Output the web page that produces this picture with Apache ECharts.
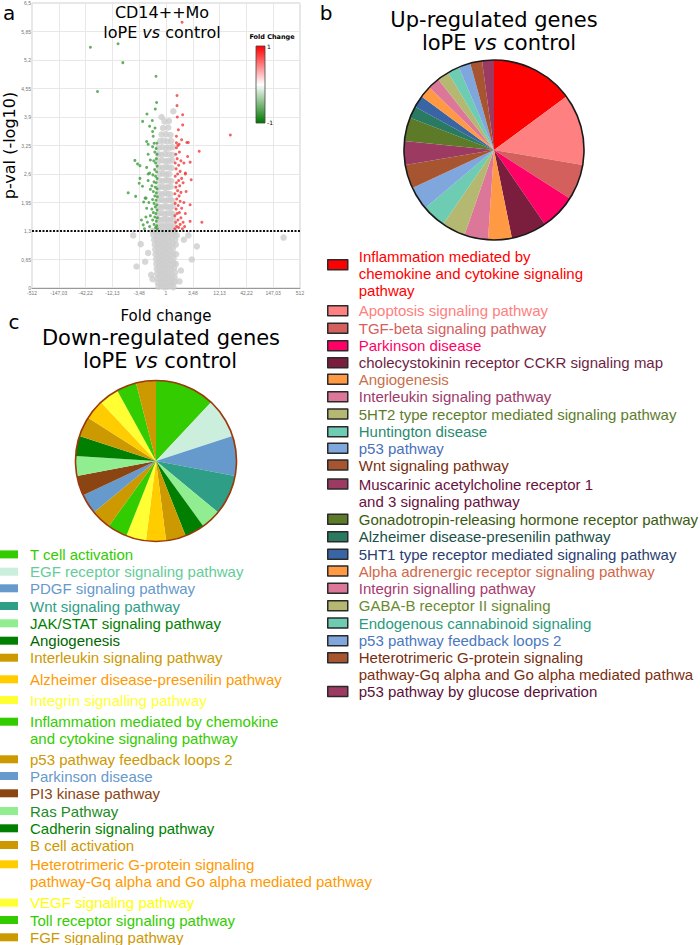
<!DOCTYPE html>
<html><head><meta charset="utf-8">
<script src="https://cdn.jsdelivr.net/npm/echarts@6/dist/echarts.min.js"></script>
<style>html,body{margin:0;padding:0;background:#fff}#c{width:700px;height:945px}</style>
</head><body><div id="c"></div><script>
// ---------- DATA ----------
const xTickLabels = ['-512','-147,03','-42,22','-12,13','-3,48','1','3,48','12,13','42,22','147,03','512'];
const yTickLabels = ['0','0,65','1,3','1,95','2,6','3,25','3,9','4,55','5,2','5,85','6,5'];
const pThreshold = 1.3;

// volcano points: [log2 fold change, -log10 p]
const greyPoints = [
[-0.5,0.03],[-0.3,0.04],[-0.1,0.02],[0.1,0.03],[0.3,0.04],[0.5,0.02],
[-0.55,0.12],[-0.35,0.13],[-0.15,0.11],[0.05,0.12],[0.25,0.13],[0.45,0.11],[0.6,0.14],
[-0.58,0.22],[-0.4,0.23],[-0.2,0.21],[0.0,0.22],[0.2,0.23],[0.4,0.21],[0.58,0.24],
[-0.6,0.33],[-0.42,0.34],[-0.22,0.32],[-0.03,0.33],[0.17,0.34],[0.37,0.32],[0.6,0.35],
[-0.62,0.44],[-0.44,0.45],[-0.25,0.43],[-0.05,0.44],[0.15,0.45],[0.35,0.43],[0.55,0.46],
[-0.65,0.55],[-0.45,0.56],[-0.27,0.54],[-0.08,0.55],[0.12,0.56],[0.32,0.54],[0.52,0.57],[0.66,0.55],
[-0.66,0.66],[-0.47,0.67],[-0.28,0.65],[-0.1,0.66],[0.1,0.67],[0.3,0.65],[0.5,0.68],
[-0.7,0.77],[-0.5,0.78],[-0.3,0.76],[-0.12,0.77],[0.08,0.78],[0.28,0.76],[0.48,0.79],[0.68,0.77],
[-0.72,0.88],[-0.52,0.89],[-0.32,0.87],[-0.14,0.88],[0.06,0.89],[0.26,0.87],[0.46,0.9],
[-0.75,0.99],[-0.55,1.0],[-0.35,0.98],[-0.16,0.99],[0.04,1.0],[0.24,0.98],[0.44,1.01],[0.66,0.99],
[-0.8,1.1],[-0.6,1.11],[-0.4,1.09],[-0.2,1.1],[0.0,1.11],[0.2,1.09],[0.4,1.12],[0.62,1.1],
[-0.85,1.21],[-0.62,1.22],[-0.42,1.2],[-0.22,1.21],[-0.02,1.22],[0.18,1.2],[0.38,1.23],[0.58,1.21],[0.72,1.2],
[-0.9,1.3],[-0.7,1.31],[-0.45,1.29],[-0.25,1.3],[0.0,1.31],[0.2,1.29],[0.4,1.32],[0.55,1.3],
[-0.5,1.42],[-0.3,1.41],[-0.1,1.43],[0.1,1.42],[0.3,1.41],[0.48,1.43],
[-0.52,1.56],[-0.32,1.55],[-0.12,1.57],[0.08,1.56],[0.28,1.55],[0.46,1.57],
[-0.5,1.7],[-0.3,1.71],[-0.1,1.69],[0.1,1.7],[0.3,1.71],[0.45,1.69],
[-0.5,1.85],[-0.3,1.84],[-0.1,1.86],[0.1,1.85],[0.28,1.84],[0.45,1.86],
[-0.48,2.0],[-0.28,2.01],[-0.08,1.99],[0.12,2.0],[0.3,2.01],[0.42,1.99],
[-0.46,2.15],[-0.26,2.14],[-0.06,2.16],[0.14,2.15],[0.3,2.14],
[-0.45,2.3],[-0.25,2.31],[-0.05,2.29],[0.15,2.3],[0.32,2.31],
[-0.44,2.45],[-0.22,2.44],[0.0,2.46],[0.2,2.45],[0.36,2.44],
[-0.42,2.6],[-0.2,2.61],[0.02,2.59],[0.22,2.6],
[-0.45,2.75],[-0.22,2.74],[0.0,2.76],[0.2,2.75],[0.38,2.74],
[-0.5,2.9],[-0.25,2.91],[-0.02,2.89],[0.2,2.9],[0.4,2.91],
[-0.52,3.05],[-0.3,3.04],[-0.05,3.06],[0.18,3.05],[0.42,3.04],
[-0.5,3.2],[-0.25,3.21],[0.0,3.19],[0.25,3.2],[0.45,3.21],
[-0.4,3.35],[-0.15,3.36],[0.1,3.34],[0.35,3.35],
[-0.3,3.5],[0.0,3.51],[0.3,3.49],[-0.2,3.65],[0.15,3.66],[-0.1,3.8],[0.2,3.81],
[0.49,4.03],[-0.3,3.9],
[-1.98,0.49],[2.07,0.95],[7.9,1.15],[1.73,0.65],[-1.7,1.0],[-1.2,0.8],[1.2,1.1],[-1.0,0.3],
[1.0,0.4],[-1.4,0.6],[1.5,1.2],[-2.2,1.2],[0.9,0.15],[-0.9,0.2]
];
const downRegPoints = [
[-0.58,1.35],[-0.62,1.42],[-0.7,1.38],[-0.8,1.45],[-0.65,1.52],[-0.9,1.55],[-0.58,1.6],[-0.75,1.62],
[-0.68,1.7],[-0.85,1.72],[-0.6,1.78],[-0.95,1.8],[-0.72,1.85],[-0.62,1.9],[-0.8,1.93],[-0.67,2.0],
[-0.9,2.02],[-0.58,2.08],[-0.75,2.1],[-0.65,2.17],[-0.85,2.2],[-0.6,2.26],[-0.72,2.3],[-0.95,2.33],
[-0.66,2.4],[-0.8,2.42],[-0.6,2.5],[-0.7,2.55],[-0.88,2.58],[-0.63,2.65],[-0.76,2.7],[-0.6,2.78],
[-0.7,2.85],[-0.82,2.9],[-0.65,2.95],[-0.6,3.05],[-0.75,3.1],[-0.66,3.18],[-0.9,3.22],[-0.62,3.3],
[-1.1,1.4],[-1.25,1.5],[-1.05,1.65],[-1.3,1.82],[-1.15,1.95],[-1.4,2.05],[-1.05,2.25],[-1.2,2.45],
[-1.1,2.62],[-1.3,2.75],[-1.05,2.92],[-1.2,3.05],[-1.5,1.96],[-1.53,1.44],[-1.65,1.55],[-1.8,2.39],
[-1.75,2.5],[-1.58,2.32],[-1.34,2.05],[-1.2,2.6],[-1.75,2.79],[-1.91,2.83],[-2.09,2.91],[-2.54,2.17],
[-2.04,2.09],[-1.45,1.35],[-1.35,1.62],
[-0.63,4.23],[-0.72,4.08],[-1.28,3.97],[-0.92,3.82],[-1.57,3.8],[-1.1,3.69],[-0.74,3.65],[-0.9,3.57],
[-0.86,3.46],[-1.3,3.34],[-0.8,3.3],[-1.2,3.28],[-0.67,4.83],[-4.6,4.48],[-2.9,5.14],[-3.22,5.57],[-5.08,5.49]
];
const upRegPoints = [
[0.6,1.35],[0.72,1.4],[0.85,1.38],[0.95,1.45],[0.65,1.5],[0.8,1.55],[1.0,1.6],[0.6,1.65],
[0.75,1.7],[0.9,1.72],[0.68,1.8],[1.05,1.82],[0.82,1.88],[0.62,1.93],[0.95,1.98],[0.72,2.03],
[0.88,2.1],[0.6,2.15],[1.0,2.18],[0.78,2.22],[0.66,2.3],[0.92,2.33],[0.7,2.4],[0.85,2.45],
[1.05,2.5],[0.62,2.55],[0.78,2.6],[0.95,2.66],[0.68,2.72],[0.85,2.8],[0.62,2.85],[1.0,2.9],
[0.75,2.95],[0.66,3.05],[0.9,3.1],[0.7,3.2],[0.8,3.25],
[1.15,1.5],[1.3,1.7],[1.2,1.95],[1.35,2.2],[1.15,2.4],[1.3,2.62],[1.2,2.85],[1.45,3.0],
[1.62,1.52],[2.41,1.5],[1.62,1.9],[1.69,2.47],[1.62,2.87],[1.3,2.6],[1.4,3.32],[2.23,3.12],
[1.1,1.35],[1.25,1.4],
[0.74,4.16],[1.12,3.95],[0.76,3.9],[0.83,3.61],[1.12,3.72],[0.7,3.46],[1.05,3.38],[0.7,3.31],
[0.88,3.28],[1.5,3.32],[0.74,4.39],[1.08,6.06],[4.32,3.49]
];

// pie b: up-regulated (gene counts)
const upCategories = [
'Inflammation mediated by\nchemokine and cytokine signaling\npathway',
'Apoptosis signaling pathway','TGF-beta signaling pathway','Parkinson disease',
'cholecystokinin receptor CCKR signaling map','Angiogenesis','Interleukin signaling pathway',
'5HT2 type receptor mediated signaling pathway','Huntington disease','p53 pathway','Wnt signaling pathway',
'Muscarinic acetylcholine receptor 1\nand 3 signaling pathway','Gonadotropin-releasing hormone receptor pathway',
'Alzheimer disease-presenilin pathway','5HT1 type receptor mediated signaling pathway',
'Alpha adrenergic receptor signaling pathway','Integrin signalling pathway','GABA-B receptor II signaling',
'Endogenous cannabinoid signaling','p53 pathway feedback loops 2',
'Heterotrimeric G-protein signaling\npathway-Gq alpha and Go alpha mediated pathwa',
'p53 pathway by glucose deprivation'
];
const upCounts = [7,6,3,3,3,2,2,2,2,2,2,2,2,1,1,1,1,1,1,1,1,1];

// pie c: down-regulated (gene counts)
const downCategories = [
'T cell activation','EGF receptor signaling pathway','PDGF signaling pathway','Wnt signaling pathway',
'JAK/STAT signaling pathway','Angiogenesis','Interleukin signaling pathway',
'Alzheimer disease-presenilin pathway','Integrin signalling pathway',
'Inflammation mediated by chemokine\nand cytokine signaling pathway','p53 pathway feedback loops 2',
'Parkinson disease','PI3 kinase pathway','Ras Pathway','Cadherin signaling pathway','B cell activation',
'Heterotrimeric G-protein signaling\npathway-Gq alpha and Go alpha mediated pathway',
'VEGF signaling pathway','Toll receptor signaling pathway','FGF signaling pathway'
];
const downCounts = [3,2,2,2,1,1,1,1,1,1,1,1,1,1,1,1,1,1,1,1];

// ---------- STYLES ----------
const upColors = ['#ff0000','#ff8080','#d4605e','#ff0066','#7b1e3e','#ff9944','#dd7799','#b5b870',
'#6dccb2','#7fa6dd','#a65530','#9c3a62','#5c7a28','#2a7a62','#3a65a5','#ff9944','#dd7799','#b5b870',
'#6dccb2','#7fa6dd','#a65530','#9c3a62'];
const upTextColors = ['#ff0000','#ff8080','#d4605e','#ff0066','#6e1f45','#c8704a','#9c3a6a','#5e7d2c',
'#2a8a70','#4a70b8','#7a2e10','#6a1040','#3a5a10','#1a5048','#2a4070','#d06848','#a83a70','#6a8a30',
'#2a9a80','#4a78c0','#7a2e10','#5a1038'];
const downColors = ['#33cc00','#cceedd','#6699cc','#2e9e86','#90ee90','#007f00','#cc9900','#ffcc00',
'#ffff33','#33cc00','#cc9900','#6699cc','#8b4513','#90ee90','#007f00','#cc9900','#ffcc00','#ffff33',
'#33cc00','#cc9900'];
const downTextColors = ['#33cc00','#66cc99','#6699cc','#2e9e86','#007f00','#006600','#cc9900','#ff9900',
'#ffff33','#33cc00','#cc9900','#6699cc','#8b4513','#228b22','#007f00','#cc9900','#ff9900','#ffff00',
'#33cc00','#cc9900'];

// ---------- LAYOUT ----------
const LH = 17.3;
const upLegendY = [256,310.7,328.3,345.7,362.7,379.3,396.7,414,431.7,448.3,465,484,519.3,536.7,554.3,571,588.3,605.7,623,640.7,657.7,691.5];
const downLegendY = [554.4,571.7,588.3,606,623.3,640.7,657.7,679.3,700,721.7,759.3,776,793.3,811,828.3,845,864.3,902.7,920,937.3];
const FONT = 'DejaVu Sans';
const LFONT = 'Liberation Sans';

function makeLegends(names, colors, textColors, ys, x, iw, ih, bordered, padLeft) {
  return names.map((n, i) => {
    const multi = n.indexOf('\n') >= 0;
    return {
      left: x, top: ys[i] - LH / 2 - (multi ? LH : 0), padding: 0, orient: 'vertical',
      selectedMode: false, icon: 'rect', itemWidth: iw, itemHeight: ih,
      itemStyle: bordered ? { borderColor: '#2a2a2a', borderWidth: 1.5 } : { borderWidth: 0 },
      formatter: s => (s.indexOf('\n') >= 0 ? '\n' + s : s),
      textStyle: { fontFamily: LFONT, fontSize: 15, lineHeight: LH, padding: [0, 0, 0, padLeft] },
      data: [{ name: n, itemStyle: { color: colors[i] }, textStyle: { color: textColors[i] } }]
    };
  });
}

function pieSeries(cats, counts, colors, center, r) {
  return {
    type: 'pie', center: center, radius: [0, r], startAngle: 90, clockwise: true,
    silent: true, label: { show: false }, labelLine: { show: false },
    itemStyle: { borderWidth: 0 }, emphasis: { disabled: true },
    data: cats.map((n, i) => ({ name: n, value: counts[i], itemStyle: { color: colors[i] } }))
  };
}
function outlineSeries(center, r, color) {
  return {
    type: 'pie', center: center, radius: [0, r], silent: true, z: 5,
    label: { show: false }, labelLine: { show: false }, emphasis: { disabled: true },
    itemStyle: { color: 'rgba(0,0,0,0)', borderColor: color, borderWidth: 1.6 },
    data: [{ name: '__outline', value: 1 }]
  };
}

const chart = echarts.init(document.getElementById('c'), null, { renderer: 'svg' });
const upCenter = [494, 150], upR = 90;
const downCenter = [156, 461], downR = 80.5;

const option = {
  backgroundColor: '#fff',
  animation: false,
  grid: { left: 32, top: 3, width: 268, height: 285, show: true, borderColor: '#cfcfcf', borderWidth: 1 },
  xAxis: {
    type: 'value', min: -9, max: 9, interval: 1.8,
    name: 'Fold change', nameLocation: 'middle', nameGap: 20,
    nameTextStyle: { fontFamily: FONT, fontSize: 15, color: '#000' },
    axisLine: { show: true, lineStyle: { color: '#999' } }, axisTick: { show: false },
    axisLabel: { fontSize: 5, color: '#777', margin: 2, formatter: v => xTickLabels[Math.round((v + 9) / 1.8)] },
    splitLine: { show: true, lineStyle: { color: '#e8e8e8' } }
  },
  yAxis: {
    type: 'value', min: 0, max: 6.5, interval: 0.65,
    name: 'p-val (-log10)', nameLocation: 'middle', nameGap: 14, nameRotate: 90,
    nameTextStyle: { fontFamily: FONT, fontSize: 16, color: '#000' },
    axisLine: { show: false }, axisTick: { show: false },
    axisLabel: { fontSize: 5, color: '#777', margin: 1, formatter: v => yTickLabels[Math.round(v / 0.65)] },
    splitLine: { show: true, lineStyle: { color: '#e8e8e8' } }
  },
  legend: makeLegends(upCategories, upColors, upTextColors, upLegendY, 327, 20, 10, true, 6)
    .concat(makeLegends(downCategories, downColors, downTextColors, downLegendY, 0, 18, 8, false, 7)),
  series: [
    { type: 'scatter', name: 'not significant', data: greyPoints, symbolSize: 6.5, silent: true,
      itemStyle: { color: '#cdcdcd' }, z: 2,
      markLine: { silent: true, symbol: 'none', label: { show: false },
        lineStyle: { color: '#111', type: [2, 1.5], width: 2 }, data: [{ yAxis: pThreshold }] } },
    { type: 'scatter', name: 'down', data: downRegPoints, symbolSize: 3, silent: true,
      itemStyle: { color: '#3d9e3d' }, z: 3 },
    { type: 'scatter', name: 'up', data: upRegPoints, symbolSize: 3, silent: true,
      itemStyle: { color: '#f23a3a' }, z: 3 },
    pieSeries(upCategories, upCounts, upColors, upCenter, upR),
    outlineSeries(upCenter, upR, '#1a1a1a'),
    pieSeries(downCategories, downCounts, downColors, downCenter, downR),
    outlineSeries(downCenter, downR, '#9a3a0a')
  ],
  graphic: [
    { type: 'text', x: 9, y: 13, style: { text: 'a', fontFamily: FONT, fontSize: 20, fill: '#000', align: 'center', verticalAlign: 'middle' } },
    { type: 'text', x: 326, y: 13, style: { text: 'b', fontFamily: FONT, fontSize: 20, fill: '#000', align: 'center', verticalAlign: 'middle' } },
    { type: 'text', x: 14, y: 322, style: { text: 'c', fontFamily: FONT, fontSize: 20, fill: '#000', align: 'center', verticalAlign: 'middle' } },
    { type: 'text', x: 162, y: 12, z: 10, style: { text: 'CD14++Mo', fontFamily: FONT, fontSize: 16, fill: '#000', align: 'center', verticalAlign: 'middle' } },
    { type: 'text', x: 162, y: 32, z: 10, style: { text: '{n|loPE }{i|vs}{n| control}', align: 'center', verticalAlign: 'middle',
      rich: { n: { fontFamily: FONT, fontSize: 16, fill: '#000' }, i: { fontFamily: FONT, fontSize: 16, fontStyle: 'italic', fill: '#000' } } } },
    { type: 'text', x: 494, y: 20, style: { text: 'Up-regulated genes', fontFamily: FONT, fontSize: 21, fill: '#000', align: 'center', verticalAlign: 'middle' } },
    { type: 'text', x: 499, y: 43, style: { text: '{n|loPE }{i|vs}{n| control}', align: 'center', verticalAlign: 'middle',
      rich: { n: { fontFamily: FONT, fontSize: 21, fill: '#000' }, i: { fontFamily: FONT, fontSize: 21, fontStyle: 'italic', fill: '#000' } } } },
    { type: 'text', x: 161, y: 338, style: { text: 'Down-regulated genes', fontFamily: FONT, fontSize: 21, fill: '#000', align: 'center', verticalAlign: 'middle' } },
    { type: 'text', x: 160, y: 361, style: { text: '{n|loPE }{i|vs}{n| control}', align: 'center', verticalAlign: 'middle',
      rich: { n: { fontFamily: FONT, fontSize: 21, fill: '#000' }, i: { fontFamily: FONT, fontSize: 21, fontStyle: 'italic', fill: '#000' } } } },
    { type: 'text', x: 272, y: 37, z: 10, style: { text: 'Fold Change', fontFamily: FONT, fontSize: 6.5, fontWeight: 'bold', fill: '#000', align: 'center', verticalAlign: 'middle' } },
    { type: 'rect', x: 256, y: 46, z: 10, shape: { width: 9, height: 77 },
      style: { stroke: '#444', lineWidth: 0.8, fill: { type: 'linear', x: 0, y: 0, x2: 0, y2: 1,
        colorStops: [{ offset: 0, color: '#ff0000' }, { offset: 0.5, color: '#ffffff' }, { offset: 1, color: '#007700' }] } } },
    { type: 'text', x: 267, y: 46, z: 10, style: { text: '1', fontFamily: FONT, fontSize: 6, fill: '#000', align: 'left', verticalAlign: 'middle' } },
    { type: 'text', x: 267, y: 122, z: 10, style: { text: '-1', fontFamily: FONT, fontSize: 6, fill: '#000', align: 'left', verticalAlign: 'middle' } }
  ]
};
chart.setOption(option);
</script></body></html>
